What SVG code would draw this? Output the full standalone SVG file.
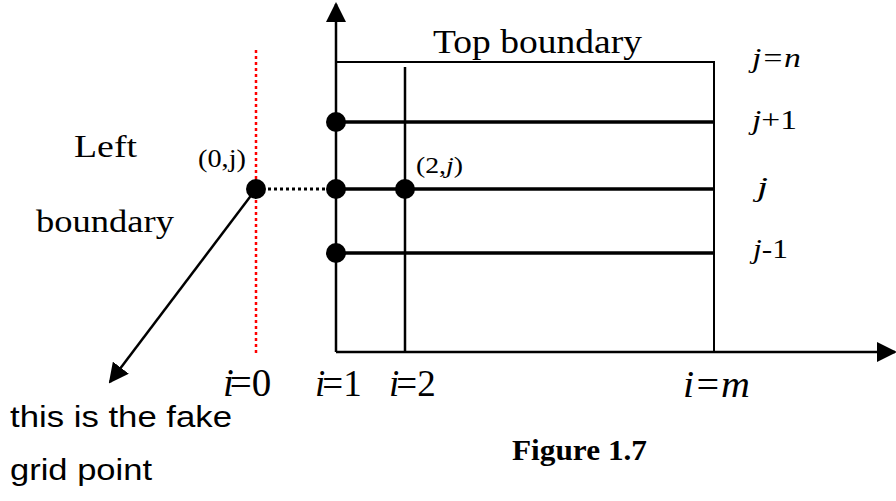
<svg xmlns="http://www.w3.org/2000/svg" width="896" height="501" viewBox="0 0 896 501">
<style>
.s{font-family:"Liberation Serif",serif;fill:#000}
.it{font-style:italic}
.sans{font-family:"Liberation Sans",Arial,sans-serif;fill:#000}
.ln{stroke:#000;fill:none}
.dot{fill:#000}
</style>
<defs>
<marker id="ah2" viewBox="0 0 10 10" refX="9" refY="5" markerWidth="8" markerHeight="8" markerUnits="strokeWidth" orient="auto">
<path d="M0,0 L10,5 L0,10 z" fill="#000"/>
</marker>
</defs>
<rect width="896" height="501" fill="#fff"/>
<g id="connectors">
<line class="ln" x1="336" y1="352" x2="336" y2="4" stroke-width="2.5" marker-end="url(#ah2)"/>
<line class="ln" x1="336" y1="352" x2="895" y2="352" stroke-width="2.5" marker-end="url(#ah2)"/>
<polyline class="ln" points="336,62 714,62 714,352" stroke-width="2"/>
<line class="ln" x1="405" y1="67" x2="405" y2="352" stroke-width="2.5"/>
<line class="ln" x1="336" y1="122" x2="714" y2="122" stroke-width="3.5"/>
<line class="ln" x1="336" y1="189" x2="714" y2="189" stroke-width="3.5"/>
<line class="ln" x1="336" y1="253" x2="714" y2="253" stroke-width="3.5"/>
<line class="ln" x1="256" y1="50" x2="256" y2="356" stroke-width="2.5" stroke-dasharray="3,3" style="stroke:#f00"/>
<line class="ln" x1="256" y1="189" x2="336" y2="189" stroke-width="3" stroke-dasharray="3,3"/>
<line class="ln" x1="256" y1="189" x2="110" y2="382" stroke-width="2.5" marker-end="url(#ah2)"/>
</g>
<g id="node-i1-jp1"><circle class="dot" cx="336" cy="122" r="10"/></g>
<g id="node-i1-j"><circle class="dot" cx="336" cy="189" r="10"/></g>
<g id="node-i1-jm1"><circle class="dot" cx="336" cy="253" r="10"/></g>
<g id="node-i2-j"><circle class="dot" cx="405" cy="189" r="10"/><text class="s" x="416" y="173" font-size="24" textLength="47" lengthAdjust="spacingAndGlyphs">(2,<tspan class="it">j</tspan>)</text></g>
<g id="node-i0-j"><circle class="dot" cx="256" cy="189" r="10"/><text class="s" x="198" y="167" font-size="25" textLength="48" lengthAdjust="spacingAndGlyphs">(0,j)</text></g>
<g id="labels">
<text class="s" x="433" y="53" font-size="34" textLength="209" lengthAdjust="spacingAndGlyphs">Top boundary</text>
<text class="s it" x="752" y="67" font-size="27" textLength="49" lengthAdjust="spacingAndGlyphs">j=n</text>
<text class="s" x="752" y="129" font-size="27" textLength="45" lengthAdjust="spacingAndGlyphs"><tspan class="it">j</tspan>+1</text>
<text class="s it" x="757" y="196" font-size="27" textLength="11" lengthAdjust="spacingAndGlyphs">j</text>
<text class="s" x="753" y="258" font-size="27" textLength="35" lengthAdjust="spacingAndGlyphs"><tspan class="it">j</tspan>-1</text>
<text class="s" x="74" y="157" font-size="31" textLength="63" lengthAdjust="spacingAndGlyphs">Left</text>
<text class="s" x="36" y="232" font-size="31" textLength="138" lengthAdjust="spacingAndGlyphs">boundary</text>
<text class="s" x="223" y="396" font-size="39"><tspan class="it">i</tspan><tspan dx="-4">=0</tspan></text>
<text class="s" x="315" y="396" font-size="37"><tspan class="it">i</tspan><tspan dx="-3">=1</tspan></text>
<text class="s" x="389" y="396" font-size="37"><tspan class="it">i</tspan><tspan dx="-3">=2</tspan></text>
<text class="s it" x="683" y="397" font-size="38" textLength="67" lengthAdjust="spacingAndGlyphs">i=m</text>
<text class="sans" x="10" y="427" font-size="30" textLength="222" lengthAdjust="spacingAndGlyphs">this is the fake</text>
<text class="sans" x="10" y="480" font-size="30" textLength="142" lengthAdjust="spacingAndGlyphs">grid point</text>
<text class="s" x="512" y="460" font-size="29" font-weight="bold" textLength="135" lengthAdjust="spacingAndGlyphs">Figure 1.7</text>
</g>
</svg>
